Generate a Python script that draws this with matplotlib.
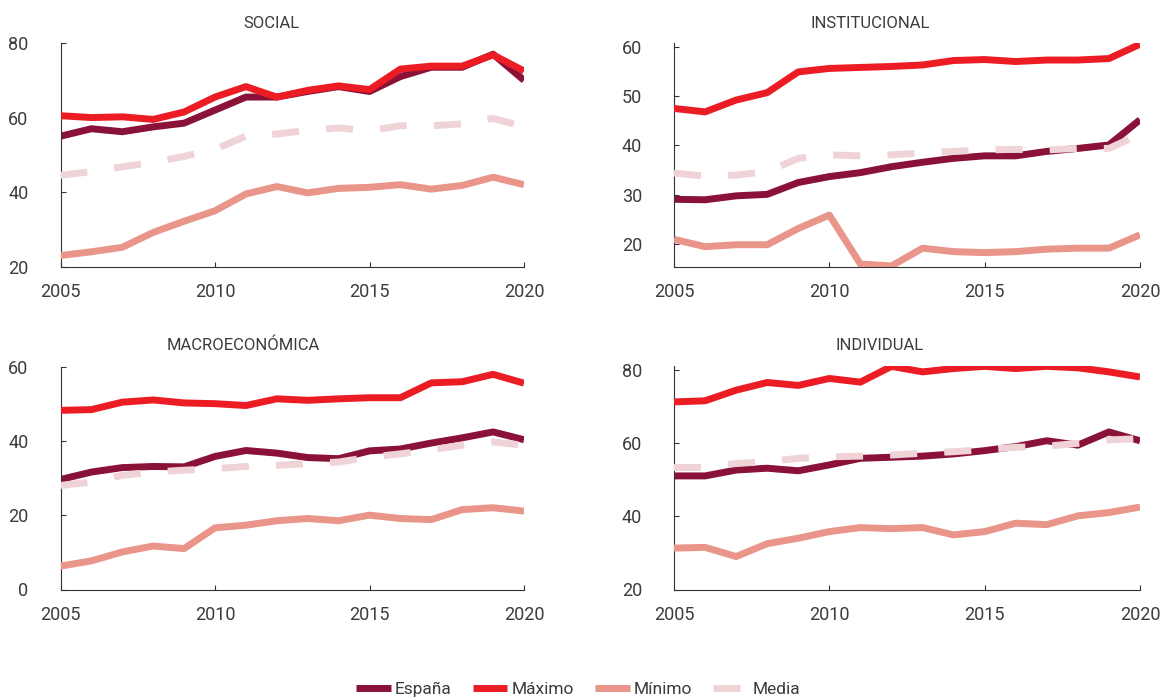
import matplotlib
matplotlib.use("Agg")
import matplotlib.pyplot as plt

plt.rcParams['font.family'] = ['Roboto', 'DejaVu Sans']

years = list(range(2005, 2021))

# SOCIAL
social_espana = [55.0, 57.0, 56.2, 57.5, 58.5, 62.0, 65.5, 65.5, 67.0, 68.3, 67.0, 71.0, 73.5, 73.5, 77.0, 70.0]
social_maximo = [60.5, 60.0, 60.2, 59.5, 61.5, 65.5, 68.3, 65.5, 67.3, 68.5, 67.5, 73.0, 73.8, 73.8, 76.8, 72.5]
social_minimo = [23.0, 24.0, 25.2, 29.2, 32.2, 35.0, 39.5, 41.5, 39.8, 41.0, 41.3, 42.0, 40.8, 41.8, 44.0, 42.0]
social_media = [44.5, 45.5, 46.8, 48.0, 49.6, 51.5, 55.0, 55.6, 56.6, 57.2, 56.5, 57.8, 57.8, 58.3, 59.8, 57.5]

# INSTITUCIONAL
inst_espana = [29.1, 29.0, 29.8, 30.1, 32.5, 33.7, 34.5, 35.7, 36.6, 37.4, 37.9, 37.9, 38.8, 39.4, 40.1, 45.2]
inst_maximo = [47.5, 46.8, 49.2, 50.7, 54.9, 55.6, 55.8, 56.0, 56.3, 57.2, 57.4, 57.0, 57.3, 57.3, 57.6, 60.5]
inst_minimo = [21.0, 19.5, 19.9, 19.9, 23.2, 25.9, 16.0, 15.6, 19.2, 18.5, 18.3, 18.5, 19.0, 19.2, 19.2, 21.9]
inst_media = [34.4, 33.8, 34.0, 34.7, 37.4, 38.1, 37.9, 38.1, 38.5, 38.8, 39.1, 39.2, 39.1, 39.4, 39.4, 42.3]

# MACROECONÓMICA
macro_espana = [29.6, 31.6, 32.8, 33.1, 33.0, 35.8, 37.4, 36.7, 35.5, 35.2, 37.3, 37.8, 39.4, 40.8, 42.4, 40.3]
macro_maximo = [48.2, 48.4, 50.4, 51.0, 50.2, 50.0, 49.5, 51.3, 50.9, 51.3, 51.6, 51.6, 55.6, 55.9, 57.9, 55.5]
macro_minimo = [6.3, 7.7, 10.1, 11.7, 11.0, 16.6, 17.3, 18.5, 19.1, 18.5, 20.0, 19.1, 18.8, 21.5, 22.0, 21.1]
macro_media = [28.0, 28.9, 30.7, 31.6, 32.1, 32.5, 33.1, 33.4, 33.9, 34.3, 35.6, 36.5, 37.6, 38.8, 39.7, 38.8]

# INDIVIDUAL
indiv_espana = [51.0, 51.0, 52.6, 53.1, 52.4, 54.0, 55.8, 56.1, 56.4, 57.0, 57.9, 59.0, 60.6, 59.4, 63.0, 60.6]
indiv_maximo = [71.2, 71.5, 74.4, 76.5, 75.7, 77.6, 76.6, 80.9, 79.4, 80.3, 80.9, 80.3, 80.9, 80.5, 79.4, 78.0]
indiv_minimo = [31.3, 31.5, 29.0, 32.5, 34.0, 35.8, 36.9, 36.6, 36.9, 34.9, 35.8, 38.1, 37.7, 40.1, 41.0, 42.5]
indiv_media = [53.3, 53.3, 54.4, 54.9, 55.8, 56.2, 56.4, 56.7, 57.2, 57.6, 58.2, 58.8, 59.1, 59.9, 60.8, 61.2]

titles = ["SOCIAL", "INSTITUCIONAL", "MACROECONÓMICA", "INDIVIDUAL"]
series_names = ["España", "Máximo", "Mínimo", "Media"]
colors = ["#8A1239", "#EC1C24", "#E9958A", "#EFD3D7"]

panels = [
    (social_espana, social_maximo, social_minimo, social_media),
    (inst_espana, inst_maximo, inst_minimo, inst_media),
    (macro_espana, macro_maximo, macro_minimo, macro_media),
    (indiv_espana, indiv_maximo, indiv_minimo, indiv_media),
]
ylims = [(20, 80), (15.45, 60.75), (0, 60), (20, 81)]
yticks = [[20, 40, 60, 80], [20, 30, 40, 50, 60], [0, 20, 40, 60], [20, 40, 60, 80]]

W, H = 1171, 700
fig = plt.figure(figsize=(W / 100, H / 100), dpi=100)

boxes = [
    (60.5, 43.0, 524.0, 266.7),
    (674.0, 43.0, 1140.0, 266.7),
    (60.5, 366.5, 524.0, 589.5),
    (674.0, 366.0, 1140.0, 589.5),
]
title_pos = [(271, 23), (870, 23), (243, 345), (880, 345)]

text_color = "#3c3c3c"
lw = 5
handles = None
for i, (data, box) in enumerate(zip(panels, boxes)):
    x0, y0, x1, y1 = box
    ax = fig.add_axes([x0 / W, 1 - y1 / H, (x1 - x0) / W, (y1 - y0) / H])
    lines = []
    for j, (vals, name, col) in enumerate(zip(data, series_names, colors)):
        if name == "Media":
            ln, = ax.plot(years, vals, color=col, lw=lw, linestyle=(0, (3.9, 3.9)),
                          dash_capstyle='butt', label=name, zorder=5)
        else:
            ln, = ax.plot(years, vals, color=col, lw=lw, solid_capstyle='butt',
                          solid_joinstyle='round', label=name, zorder=2 + j)
        lines.append(ln)
    if handles is None:
        handles = lines
    ax.set_xlim(2005, 2020)
    ax.set_ylim(*ylims[i])
    ax.set_xticks([2005, 2010, 2015, 2020])
    ax.set_yticks(yticks[i])
    for s in ['top', 'right']:
        ax.spines[s].set_visible(False)
    for s in ['left', 'bottom']:
        ax.spines[s].set_color('#333333')
        ax.spines[s].set_linewidth(0.8)
    ax.tick_params(axis='both', direction='in', length=3.5, width=0.8,
                   color='#333333', labelsize=13, labelcolor=text_color)
    ax.tick_params(axis='y', pad=23)
    ax.tick_params(axis='x', pad=12)
    ax.patch.set_alpha(0)
    tx, ty = title_pos[i]
    fig.text(tx / W, 1 - ty / H, titles[i], ha='center', va='center',
             fontsize=12, color=text_color)

leg = fig.legend(handles, series_names, loc='center', bbox_to_anchor=(578 / W, 1 - 689 / H),
                 ncol=4, frameon=False, fontsize=12.5, handlelength=2.0,
                 handletextpad=0.25, columnspacing=1.2, labelcolor=text_color)

fig.savefig("out.png", dpi=100)
